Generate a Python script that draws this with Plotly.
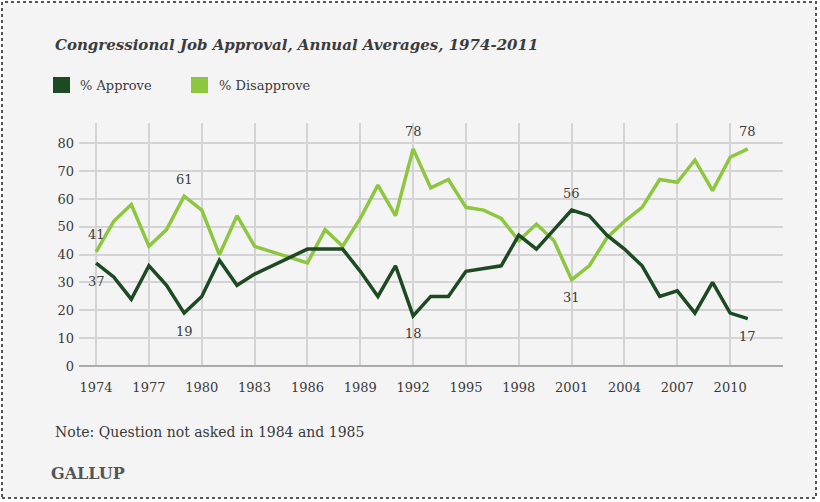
import plotly.graph_objects as go

# Annual averages (question not asked in 1984 and 1985)
years = [1974, 1975, 1976, 1977, 1978, 1979, 1980, 1981, 1982, 1983,
         1986, 1987, 1988, 1989, 1990, 1991, 1992, 1993, 1994, 1995,
         1996, 1997, 1998, 1999, 2000, 2001, 2002, 2003, 2004, 2005,
         2006, 2007, 2008, 2009, 2010, 2011]
approve = [37, 32, 24, 36, 29, 19, 25, 38, 29, 33,
           42, 42, 42, 34, 25, 36, 18, 25, 25, 34,
           35, 36, 47, 42, 49, 56, 54, 47, 42, 36,
           25, 27, 19, 30, 19, 17]
disapprove = [41, 52, 58, 43, 49, 61, 56, 40, 54, 43,
              37, 49, 43, 53, 65, 54, 78, 64, 67, 57,
              56, 53, 45, 51, 45, 31, 36, 46, 52, 57,
              67, 66, 74, 63, 75, 78]

tick_years = list(range(1974, 2011, 3))
y_ticks = [0, 10, 20, 30, 40, 50, 60, 70, 80]

# (series, year, position) for the value callouts
callouts = [("d", 1974, "above"), ("a", 1974, "below"),
            ("d", 1979, "above"), ("a", 1979, "below"),
            ("d", 1992, "above"), ("a", 1992, "below"),
            ("a", 2001, "above"), ("d", 2001, "below"),
            ("d", 2011, "above"), ("a", 2011, "below")]

DARK = "#1d4a22"
LIGHT = "#8dc63f"
TEXT = "#3a3a3a"
FONT = "DejaVu Serif"

W, H = 820, 502
L, R, T, B = 79, 37, 123, 136
PW, PH = W - L - R, H - T - B


def px(x):
    return (x - L) / PW


def py(y):
    return (H - B - y) / PH


fig = go.Figure()
fig.add_trace(go.Scatter(x=years, y=disapprove, mode="lines",
                         line=dict(color=LIGHT, width=3.5),
                         name="% Disapprove", showlegend=False))
fig.add_trace(go.Scatter(x=years, y=approve, mode="lines",
                         line=dict(color=DARK, width=3.5),
                         name="% Approve", showlegend=False))

annotations = []
for series, yr, pos in callouts:
    vals = approve if series == "a" else disapprove
    v = vals[years.index(yr)]
    annotations.append(dict(
        x=yr, y=v, xref="x", yref="y", text=str(v), showarrow=False,
        yshift=17 if pos == "above" else -18,
        font=dict(family=FONT, size=13, color=TEXT)))

# title, legend labels, note and source
annotations += [
    dict(x=px(53), y=py(45), xref="paper", yref="paper", xanchor="left",
         yanchor="middle", showarrow=False,
         text="<b><i>Congressional Job Approval, Annual Averages, 1974-2011</i></b>",
         font=dict(family=FONT, size=15, color="#3c3c3c")),
    dict(x=px(78), y=py(85), xref="paper", yref="paper", xanchor="left",
         yanchor="middle", showarrow=False, text="% Approve",
         font=dict(family=FONT, size=13, color=TEXT)),
    dict(x=px(217), y=py(85), xref="paper", yref="paper", xanchor="left",
         yanchor="middle", showarrow=False, text="% Disapprove",
         font=dict(family=FONT, size=13, color=TEXT)),
    dict(x=px(53), y=py(432), xref="paper", yref="paper", xanchor="left",
         yanchor="middle", showarrow=False,
         text="Note: Question not asked in 1984 and 1985",
         font=dict(family=FONT, size=14, color=TEXT)),
    dict(x=px(49), y=py(473), xref="paper", yref="paper", xanchor="left",
         yanchor="middle", showarrow=False, text="<b>GALLUP</b>",
         font=dict(family=FONT, size=16, color="#555555")),
]

shapes = [
    # dotted frame
    dict(type="rect", xref="paper", yref="paper",
         x0=px(2), x1=px(816), y0=py(498), y1=py(2),
         line=dict(color="#555555", width=2, dash="dot"),
         fillcolor="#f4f4f4", layer="below"),
    # legend swatches
    dict(type="rect", xref="paper", yref="paper",
         x0=px(53), x1=px(70), y0=py(93), y1=py(77),
         line=dict(width=0), fillcolor=DARK),
    dict(type="rect", xref="paper", yref="paper",
         x0=px(191), x1=px(208), y0=py(93), y1=py(77),
         line=dict(width=0), fillcolor=LIGHT),
]

fig.update_layout(
    width=W, height=H,
    margin=dict(l=L, r=R, t=T, b=B),
    paper_bgcolor="white", plot_bgcolor="rgba(0,0,0,0)",
    showlegend=False,
    annotations=annotations, shapes=shapes,
    xaxis=dict(range=[1973.03, 2013.0], tickmode="array",
               tickvals=tick_years, ticktext=[str(t) for t in tick_years],
               showgrid=True, gridcolor="#d4d4d4", gridwidth=1.5,
               zeroline=False, showline=False, ticks="",
               ticklabelstandoff=12,
               tickfont=dict(family=FONT, size=13, color=TEXT)),
    yaxis=dict(range=[0, 87.3], tickmode="array", tickvals=y_ticks,
               showgrid=True, gridcolor="#d4d4d4", gridwidth=1.5,
               zeroline=True, zerolinecolor="#aaaaaa", zerolinewidth=2,
               showline=False, ticks="", ticklabelstandoff=4,
               tickfont=dict(family=FONT, size=13, color=TEXT)),
)

fig.write_html("out.html")
